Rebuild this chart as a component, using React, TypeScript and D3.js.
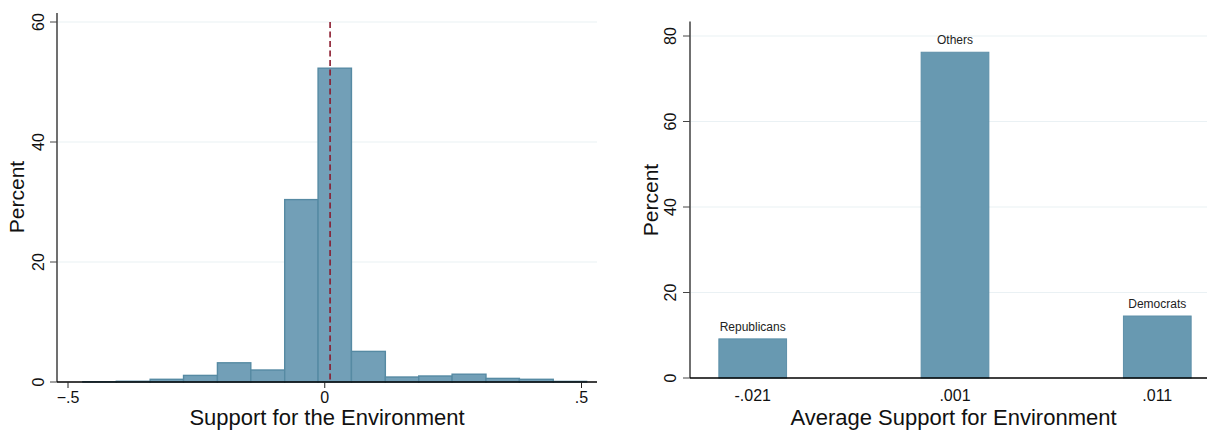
import * as d3 from "d3";
import React from "react";

// left panel: histogram of support for the environment
const binEdges = [-0.471, -0.406, -0.34, -0.275, -0.209, -0.144, -0.078, -0.013, 0.052, 0.118, 0.183, 0.248, 0.314, 0.379, 0.445, 0.51];
const binPercent = [0.05, 0.12, 0.45, 1.1, 3.2, 2.0, 30.4, 52.3, 5.1, 0.83, 1.0, 1.3, 0.6, 0.45, 0.1];
const meanLine = 0.0104;
const histXTicks = [-0.5, 0, 0.5];
const histYTicks = [0, 20, 40, 60];

// right panel: party averages
const parties = ["Republicans", "Others", "Democrats"];
const partyAvg = ["-.021", ".001", ".011"];
const partyPercent = [9.15, 76.2, 14.5];
const barYTicks = [0, 20, 40, 60, 80];

const font = "Arial, 'Liberation Sans', sans-serif";
const fmtX = (d: number) => (d === 0 ? "0" : d3.format(".1f")(d).replace("0.", "."));

const App = () => {
  // left scales
  const x1 = d3.scaleLinear().domain([-0.5, 0.5]).range([68, 581.5]);
  const y1 = d3.scaleLinear().domain([0, 60]).range([382, 22]);

  // right scales
  const x2 = d3.scalePoint<string>().domain(partyAvg).range([690, 1220]).padding(0.31);
  const y2 = d3.scaleLinear().domain([0, 80]).range([378, 36]);
  const barW = 67.7;

  return (
    <svg
      width={1207}
      height={444}
      style={{ position: "absolute", left: 0, top: 0, background: "#fff" }}
      fontFamily={font}
    >
      {/* ---------- left: histogram ---------- */}
      <g>
        {histYTicks.filter((t) => t > 0).map((t) => (
          <line key={t} x1={57} x2={597} y1={y1(t)} y2={y1(t)} stroke="#eaf1f4" strokeWidth={1.2} />
        ))}
        {binPercent.map((p, i) => (
          <rect
            key={i}
            x={x1(binEdges[i])}
            y={y1(p)}
            width={x1(binEdges[i + 1]) - x1(binEdges[i])}
            height={y1(0) - y1(p)}
            fill="#729fb7"
            stroke="#568aa3"
            strokeWidth={1.4}
          />
        ))}
        <line
          x1={x1(meanLine)}
          x2={x1(meanLine)}
          y1={y1(60)}
          y2={y1(0)}
          stroke="#8b1a2e"
          strokeWidth={1.6}
          strokeDasharray="6,3.5"
        />
        {/* y axis */}
        <line x1={57} x2={57} y1={13} y2={382} stroke="#707070" strokeWidth={2} />
        {histYTicks.map((t) => (
          <g key={t}>
            <line x1={50} x2={57} y1={y1(t)} y2={y1(t)} stroke="#444" strokeWidth={1} />
            <text
              transform={`translate(43.5,${y1(t)}) rotate(-90)`}
              textAnchor="middle"
              fontSize={16}
              fill="#111"
            >
              {t}
            </text>
          </g>
        ))}
        <text transform="translate(24,197) rotate(-90)" textAnchor="middle" fontSize={21} fill="#111">
          Percent
        </text>
        {/* x axis */}
        <line x1={57} x2={597} y1={382} y2={382} stroke="#000" strokeWidth={1.5} />
        {histXTicks.map((t) => (
          <g key={t}>
            <line x1={x1(t)} x2={x1(t)} y1={382} y2={388} stroke="#222" strokeWidth={1} />
            <text x={x1(t)} y={403} textAnchor="middle" fontSize={16} fill="#111">
              {fmtX(t)}
            </text>
          </g>
        ))}
        <text x={327} y={425} textAnchor="middle" fontSize={22} fill="#111">
          Support for the Environment
        </text>
      </g>

      {/* ---------- right: bar chart ---------- */}
      <g>
        {barYTicks.filter((t) => t > 0).map((t) => (
          <line key={t} x1={690} x2={1207} y1={y2(t)} y2={y2(t)} stroke="#eaf1f4" strokeWidth={1.2} />
        ))}
        {partyPercent.map((p, i) => {
          const cx = x2(partyAvg[i]) as number;
          return (
            <g key={i}>
              <rect
                x={cx - barW / 2}
                y={y2(p)}
                width={barW}
                height={y2(0) - y2(p)}
                fill="#6899b1"
                stroke="#5d8fa8"
                strokeWidth={1}
              />
              <text x={cx} y={y2(p) - 8} textAnchor="middle" fontSize={12} fill="#222">
                {parties[i]}
              </text>
            </g>
          );
        })}
        {/* y axis */}
        <line x1={690} x2={690} y1={21.5} y2={378} stroke="#707070" strokeWidth={2} />
        {barYTicks.map((t) => (
          <g key={t}>
            <line x1={683} x2={690} y1={y2(t)} y2={y2(t)} stroke="#444" strokeWidth={1} />
            <text
              transform={`translate(676,${y2(t)}) rotate(-90)`}
              textAnchor="middle"
              fontSize={16}
              fill="#111"
            >
              {t}
            </text>
          </g>
        ))}
        <text transform="translate(658,200) rotate(-90)" textAnchor="middle" fontSize={21} fill="#111">
          Percent
        </text>
        {/* x axis */}
        <line x1={690} x2={1207} y1={378} y2={378} stroke="#000" strokeWidth={1.5} />
        {partyAvg.map((a) => (
          <text key={a} x={x2(a)} y={401} textAnchor="middle" fontSize={16} fill="#111">
            {a}
          </text>
        ))}
        <text x={953.5} y={425} textAnchor="middle" fontSize={22} fill="#111">
          Average Support for Environment
        </text>
      </g>
    </svg>
  );
};

export default App;
